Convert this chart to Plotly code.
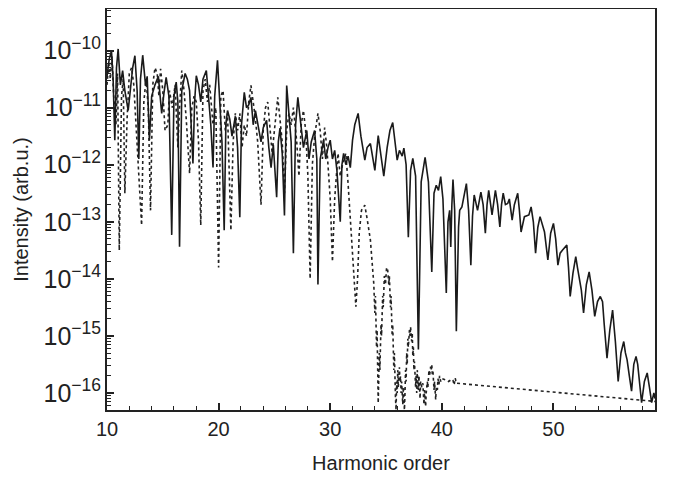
import plotly.graph_objects as go

# Solid line: harmonic order and log10(intensity)
solid_x = [10.0,10.2,10.4,10.55,10.7,10.85,11.0,11.2,11.4,11.6,11.9,12.1,12.3,12.5,12.7,12.85,13.0,13.2,13.45,13.6,13.8,14.0,14.3,14.6,14.9,15.1,15.3,15.55,15.8,16.0,16.2,16.35,16.5,16.7,17.0,17.2,17.4,17.7,17.85,18.0,18.2,18.4,18.6,18.9,19.1,19.3,19.5,19.65,19.9,20.1,20.3,20.5,20.65,20.8,21.0,21.2,21.5,21.7,21.9,22.05,22.3,22.5,22.7,22.9,23.1,23.3,23.5,23.8,24.0,24.3,24.5,24.7,24.9,25.2,25.35,25.5,25.7,25.9,26.1,26.3,26.5,26.7,26.9,27.1,27.3,27.6,27.9,28.1,28.3,28.6,28.8,28.9,29.1,29.4,29.6,29.8,30.0,30.2,30.4,30.6,30.9,31.05,31.2,31.4,31.6,31.8,32.0,32.2,32.5,32.75,33.1,33.3,33.6,33.8,34.0,34.3,34.5,34.8,35.1,35.35,35.6,35.8,36.0,36.2,36.45,36.6,36.8,37.0,37.2,37.4,37.65,37.9,38.15,38.5,38.8,39.1,39.3,39.5,39.7,39.9,40.1,40.4,40.55,40.7,40.8,40.9,41.0,41.15,41.3,41.5,41.6,41.8,42.0,42.2,42.4,42.6,42.75,42.9,43.2,43.5,43.7,43.9,44.05,44.2,44.5,44.8,45.0,45.2,45.35,45.5,45.7,45.9,46.05,46.3,46.5,46.8,46.95,47.1,47.4,47.6,47.8,48.0,48.2,48.4,48.6,48.8,49.0,49.2,49.5,49.75,50.0,50.2,50.4,50.6,50.8,51.0,51.2,51.35,51.5,51.75,52.0,52.15,52.3,52.5,52.7,52.95,53.2,53.45,53.7,53.95,54.2,54.4,54.55,54.8,55.05,55.3,55.55,55.8,56.05,56.3,56.45,56.6,56.8,57.0,57.2,57.4,57.55,57.7,57.9,58.15,58.4,58.6,58.8,59.0,59.1]
solid_logy = [-10.45,-10.15,-10.0,-10.5,-11.57,-10.3,-9.97,-10.6,-10.35,-10.7,-11.05,-10.6,-10.3,-10.09,-10.7,-11.9,-10.5,-10.08,-10.6,-10.45,-11.57,-10.8,-10.6,-10.45,-11.1,-10.75,-10.47,-10.8,-13.23,-10.8,-10.55,-10.9,-13.44,-10.7,-10.4,-10.5,-10.7,-11.98,-10.9,-10.44,-10.6,-10.9,-10.5,-10.35,-10.8,-11.3,-12.05,-10.8,-10.17,-10.9,-11.6,-13.15,-11.3,-11.05,-11.2,-11.5,-11.15,-11.7,-12.92,-11.3,-10.73,-11.0,-10.95,-10.82,-11.3,-11.05,-11.3,-11.6,-11.35,-11.22,-11.7,-12.05,-11.65,-12.57,-11.6,-11.36,-11.8,-12.89,-10.61,-11.1,-11.6,-13.55,-11.3,-10.82,-11.2,-11.7,-11.4,-11.9,-11.6,-11.4,-11.9,-14.1,-11.9,-11.57,-11.9,-11.7,-11.57,-11.9,-11.75,-12.1,-13.0,-12.0,-11.8,-12.0,-11.85,-12.05,-11.57,-11.3,-11.1,-11.5,-11.92,-11.7,-11.63,-11.9,-12.1,-11.49,-11.75,-12.2,-11.7,-11.4,-11.26,-11.6,-11.92,-11.75,-11.85,-11.71,-12.0,-13.27,-12.1,-11.89,-12.2,-15.24,-12.3,-11.87,-12.3,-13.88,-12.5,-12.36,-12.45,-12.21,-12.6,-14.25,-13.0,-12.8,-13.44,-12.7,-12.26,-12.8,-14.92,-13.09,-12.8,-12.74,-12.5,-12.33,-12.8,-13.76,-12.9,-12.53,-12.8,-12.48,-12.7,-13.2,-12.7,-12.45,-12.88,-12.45,-12.7,-13.09,-12.7,-12.5,-12.7,-12.68,-12.6,-12.97,-12.7,-12.5,-12.8,-13.18,-12.91,-12.9,-12.88,-12.74,-13.0,-13.55,-13.1,-12.91,-13.05,-13.18,-13.67,-13.2,-13.03,-13.3,-13.76,-13.55,-13.5,-13.45,-13.41,-13.8,-14.31,-13.9,-13.61,-13.8,-13.96,-14.2,-14.6,-14.1,-13.88,-14.2,-14.66,-14.4,-14.31,-14.4,-14.8,-15.39,-14.9,-14.55,-15.1,-15.8,-15.3,-15.1,-15.3,-15.42,-15.7,-15.97,-15.5,-15.36,-15.5,-15.8,-16.17,-15.8,-15.65,-15.9,-16.17,-16.0,-16.1]

# Dotted line
dot_x = [10.0,10.15,10.3,10.45,10.6,10.8,10.95,11.1,11.3,11.45,11.6,11.8,12.0,12.2,12.4,12.6,12.8,13.1,13.3,13.5,13.7,13.9,14.1,14.3,14.5,14.65,14.8,15.0,15.2,15.45,15.6,15.85,16.1,16.35,16.5,16.7,16.9,17.1,17.4,17.6,17.8,18.0,18.2,18.4,18.6,18.8,19.0,19.2,19.5,19.75,20.0,20.2,20.4,20.6,20.8,21.1,21.3,21.5,21.7,21.9,22.1,22.3,22.5,22.7,22.9,23.1,23.3,23.5,23.8,24.0,24.2,24.4,24.6,24.8,25.0,25.3,25.5,25.7,25.9,26.1,26.3,26.5,26.7,27.0,27.2,27.4,27.6,27.8,28.0,28.2,28.4,28.6,28.9,29.1,29.3,29.5,29.7,30.0,30.2,30.4,30.7,30.9,31.1,31.4,31.6,31.9,32.1,32.3,32.45,32.6,32.8,33.1,33.35,33.6,33.9,
         34.0,34.05,34.15,34.2,34.3,34.4,34.45,34.55,34.6,34.7,34.75,34.85,34.95,35.05,35.15,35.25,35.3,35.4,35.45,35.55,35.6,35.7,35.75,35.85,35.9,35.95,36.0,36.05,36.1,36.2,36.25,36.3,36.35,36.4,36.5,36.55,36.65,36.7,36.75,36.8,36.85,36.9,36.95,37.0,37.1,37.15,37.2,37.25,37.3,37.35,37.4,37.45,37.5,37.55,37.65,37.7,37.75,37.8,37.9,37.95,38.05,38.1,38.2,38.3,38.4,38.45,38.55,38.6,38.7,38.75,38.85,38.9,39.0,39.05,39.1,39.15,39.2,39.3,39.35,39.45,39.5,39.6,39.65,39.75,39.8,39.9,40.0,40.3,40.6,40.9,41.0,41.1,41.2,41.3,58.8,59.1]
dot_logy = [-10.6,-10.2,-10.5,-10.1,-10.8,-11.3,-10.4,-13.5,-10.8,-10.5,-12.5,-11.2,-10.4,-10.3,-10.6,-11.3,-12.0,-13.06,-10.9,-10.5,-11.0,-12.8,-10.6,-10.3,-10.4,-10.8,-10.32,-10.7,-11.4,-11.3,-10.7,-11.0,-10.6,-11.7,-11.0,-10.35,-10.7,-11.2,-12.15,-11.0,-10.8,-10.9,-11.6,-13.06,-10.7,-10.5,-10.9,-10.6,-11.3,-11.0,-13.8,-10.8,-10.7,-11.4,-11.1,-13.15,-11.6,-11.1,-11.4,-11.1,-11.7,-11.3,-11.5,-10.9,-10.61,-10.9,-11.2,-11.6,-12.7,-11.4,-11.0,-10.9,-11.3,-11.8,-11.4,-10.82,-11.2,-11.6,-12.5,-11.4,-11.1,-11.3,-11.0,-11.6,-12.2,-11.3,-11.05,-11.4,-12.2,-14.0,-12.0,-11.5,-11.1,-11.4,-11.9,-11.35,-11.7,-12.6,-13.7,-12.6,-11.8,-12.2,-12.0,-11.8,-12.33,-13.3,-14.0,-14.49,-14.0,-13.2,-12.8,-12.71,-13.0,-13.32,-14.08,
            -14.6,-14.3,-15.2,-14.9,-16.18,-15.3,-15.6,-14.8,-15.0,-14.3,-14.5,-13.95,-14.1,-13.8,-13.85,-14.1,-13.95,-14.5,-14.3,-15.0,-14.8,-15.6,-15.3,-16.1,-16.3,-15.8,-16.0,-15.6,-15.9,-15.55,-15.8,-15.71,-16.0,-15.8,-16.2,-15.9,-16.3,-16.0,-15.6,-15.8,-15.3,-15.5,-15.05,-15.2,-14.9,-15.0,-14.84,-14.95,-15.1,-14.95,-15.35,-15.2,-15.6,-15.45,-15.9,-15.7,-16.0,-15.6,-15.95,-15.7,-16.1,-15.8,-15.9,-15.83,-16.2,-15.95,-16.24,-16.0,-15.8,-15.9,-15.6,-15.7,-15.54,-15.6,-15.5,-15.7,-15.6,-15.95,-15.8,-16.12,-15.9,-15.95,-15.75,-15.85,-15.7,-15.8,-15.75,-15.77,-15.8,-15.76,-15.78,-15.86,-15.74,-15.83,-16.15,-16.15]

x_range = [10, 59.1]
y_log_range = [-16.3, -9.27]
x_ticks = [10, 20, 30, 40, 50]

solid_y = [10 ** v for v in solid_logy]
dot_y = [10 ** v for v in dot_logy]

fig = go.Figure()
fig.add_trace(go.Scatter(x=dot_x, y=dot_y, mode="lines",
                         line=dict(color="#222", width=1.6, dash="dot")))
fig.add_trace(go.Scatter(x=solid_x, y=solid_y, mode="lines",
                         line=dict(color="#1a1a1a", width=1.6)))

font_family = "Liberation Sans, Arial, sans-serif"
fig.update_layout(
    width=677, height=477,
    margin=dict(l=99, r=30, t=1, b=75),
    paper_bgcolor="white", plot_bgcolor="white",
    showlegend=False,
    font=dict(family=font_family, size=20, color="#222"),
    xaxis=dict(range=x_range, tickvals=x_ticks, ticks="inside", ticklen=7,
               tickwidth=1.5, tickcolor="#222",
               showline=True, linecolor="#222", linewidth=2, mirror=True,
               showgrid=False, zeroline=False, automargin=False,
               minor=dict(ticks="inside", ticklen=4, dtick=2, tick0=10, tickcolor="#222", tickwidth=1.2),
               title=dict(text="Harmonic order", font=dict(size=20), standoff=17),
               tickfont=dict(size=20)),
    yaxis=dict(type="log", range=y_log_range, dtick=1, exponentformat="power",
               ticks="inside", ticklen=7, tickwidth=1.5, tickcolor="#222",
               showline=True, linecolor="#222", linewidth=2, mirror=True,
               showgrid=False, zeroline=False, automargin=False,
               minor=dict(ticks="inside", ticklen=4, dtick="D1", tickcolor="#222", tickwidth=1),
               title=dict(text="Intensity (arb.u.)", font=dict(size=20), standoff=10),
               tickfont=dict(size=20)),
)
fig.write_html("out.html")
